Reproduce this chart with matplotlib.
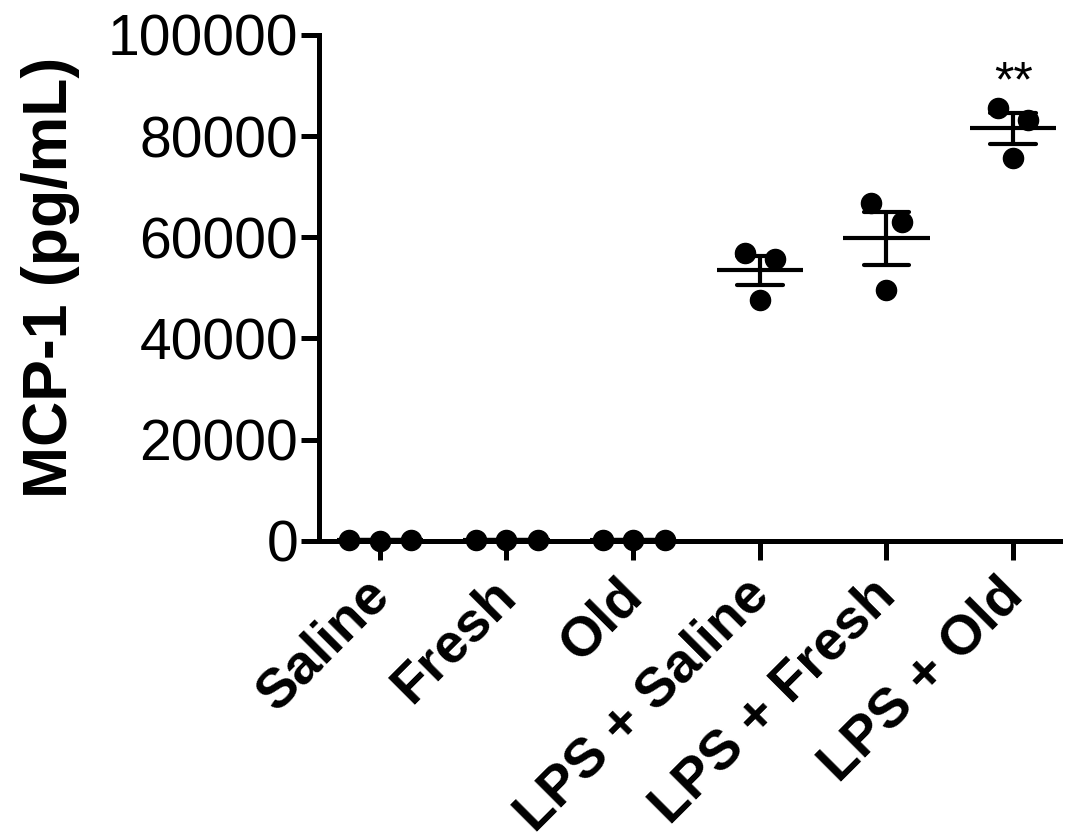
import numpy as np
import matplotlib
matplotlib.use("Agg")
import matplotlib.pyplot as plt
from matplotlib.transforms import ScaledTranslation

plt.rcParams['font.family'] = ['Liberation Sans', 'DejaVu Sans']

# MCP-1 concentrations (pg/mL), three replicates per group
groups = ["Saline", "Fresh", "Old", "LPS + Saline", "LPS + Fresh", "LPS + Old"]
saline = [120, 90, 150]
fresh = [100, 140, 110]
old = [160, 130, 150]
lps_saline = [56800, 55800, 47700]
lps_fresh = [66700, 63100, 49500]
lps_old = [85600, 83200, 75700]
significance = ["", "", "", "", "", "**"]
y_ticks = [0, 20000, 40000, 60000, 80000, 100000]

series = [saline, fresh, old, lps_saline, lps_fresh, lps_old]

fig = plt.figure(figsize=(10.65, 8.32), dpi=100)
ax = fig.add_axes([0.2995, 0.3498, 0.6958, 0.6084])

lw = 3.0
for i, vals in enumerate(series):
    vals = np.asarray(vals, dtype=float)
    mean = vals.mean()
    sem = vals.std(ddof=1) / np.sqrt(len(vals))
    # scatter layout: overlapping points spread wider
    if mean < 5000:
        offs = np.array([-0.24, 0.0, 0.25])
    else:
        offs = np.array([-0.12, 0.12, 0.0])
    ax.plot(i + offs, vals, 'o', color='black', markersize=14.5,
            clip_on=False, zorder=3)
    ax.plot([i - 0.34, i + 0.34], [mean, mean], color='black', lw=lw,
            solid_capstyle='butt', zorder=4, clip_on=False)
    ax.plot([i, i], [mean - sem, mean + sem], color='black', lw=lw,
            solid_capstyle='butt', zorder=4, clip_on=False)
    for cap in (mean - sem, mean + sem):
        ax.plot([i - 0.18, i + 0.18], [cap, cap], color='black', lw=lw,
                solid_capstyle='round', zorder=4, clip_on=False)
    if significance[i]:
        ax.text(i, vals.max() + 300, significance[i], ha='center',
                va='bottom', fontsize=36, color='black')

ax.set_xlim(-0.48, 5.37)
ax.set_ylim(0, 100000)
ax.set_yticks(y_ticks)
ax.set_yticklabels([str(t) for t in y_ticks])
ax.set_xticks(range(len(groups)))
ax.set_xticklabels([])

# rotated group labels, anchored just below each tick
label_trans = ax.get_xaxis_transform() + ScaledTranslation(0.20, -0.28,
                                                            fig.dpi_scale_trans)
for i, name in enumerate(groups):
    ax.text(i, 0, name, rotation=45, ha='right', va='top', fontsize=40,
            fontweight='bold', transform=label_trans, clip_on=False)

ax.tick_params(axis='y', labelsize=41, width=3.6, length=13, pad=2)
ax.tick_params(axis='x', width=3.6, length=14, pad=4)
ax.set_ylabel("MCP-1 (pg/mL)", fontsize=45, fontweight='bold')
ax.yaxis.set_label_coords(-0.3225, 0.52)

for s in ('top', 'right'):
    ax.spines[s].set_visible(False)
for s in ('left', 'bottom'):
    ax.spines[s].set_linewidth(3.6)

fig.savefig("out.png", dpi=100)
